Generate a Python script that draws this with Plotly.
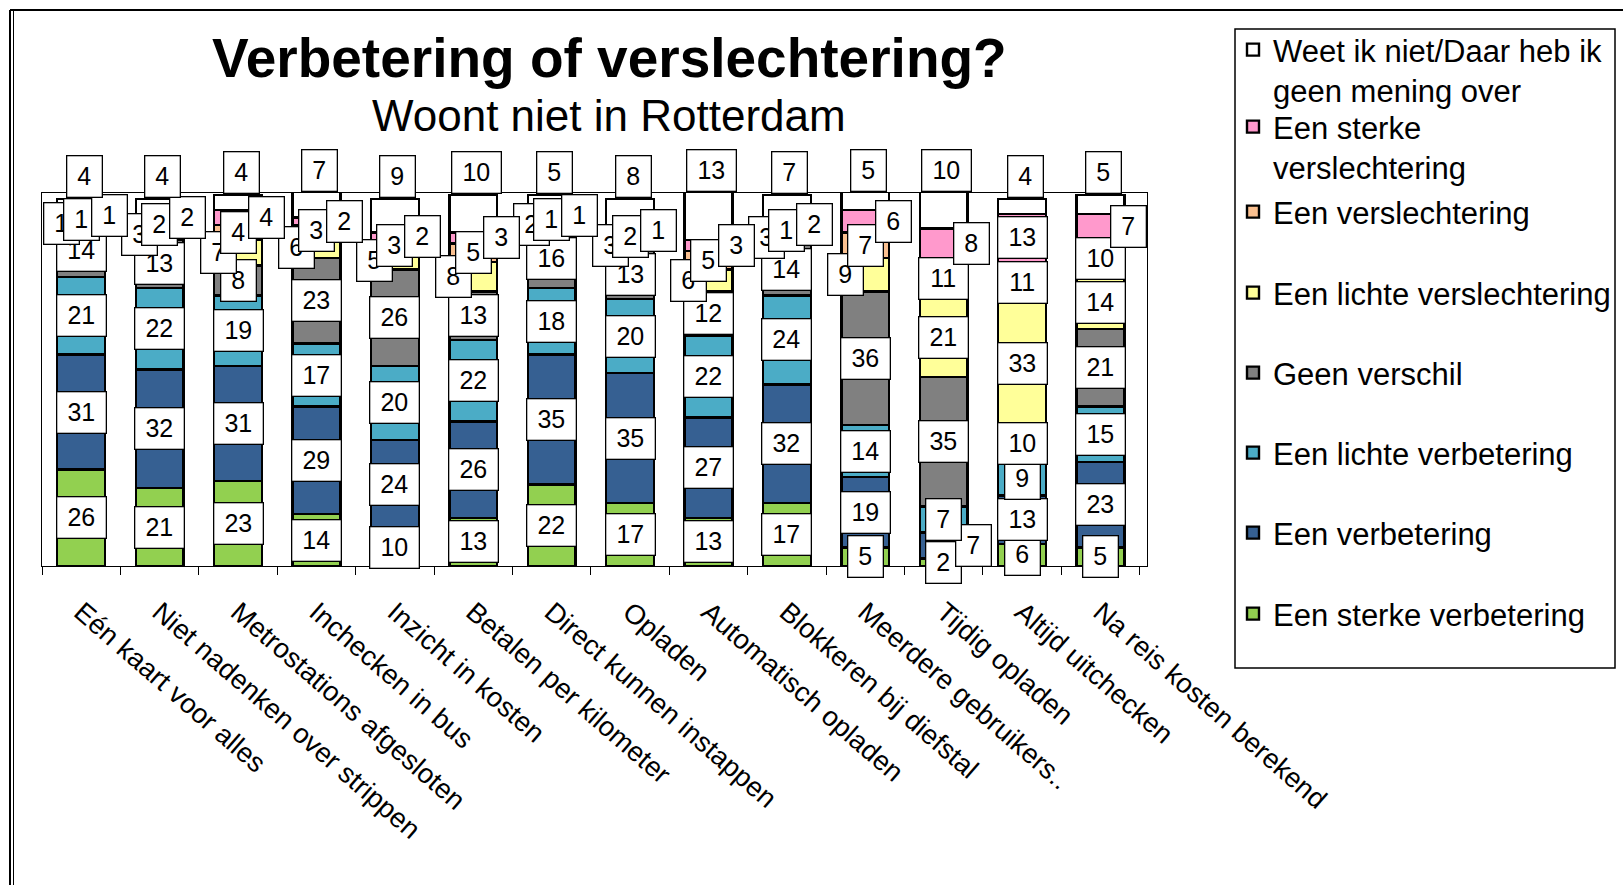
import plotly.graph_objects as go

categories = ["Eén kaart voor alles", "Niet nadenken over strippen", "Metrostations afgesloten",
              "Inchecken in bus", "Inzicht in kosten", "Betalen per kilometer",
              "Direct kunnen instappen", "Opladen", "Automatisch opladen",
              "Blokkeren bij diefstal", "Meerdere gebruikers..", "Tijdig opladen",
              "Altijd uitchecken", "Na reis kosten berekend"]

sterke_verbetering = [26, 21, 23, 14, 10, 13, 22, 17, 13, 17, 5, 2, 6, 5]
verbetering = [31, 32, 31, 29, 24, 26, 35, 35, 27, 32, 19, 7, 13, 23]
lichte_verbetering = [21, 22, 19, 17, 20, 22, 18, 20, 22, 24, 14, 7, 9, 15]
geen_verschil = [14, 13, 8, 23, 26, 13, 16, 13, 12, 14, 36, 35, 10, 21]
lichte_verslechtering = [1, 3, 7, 6, 5, 8, 2, 3, 6, 3, 9, 21, 33, 14]
verslechtering = [1, 2, 4, 3, 3, 5, 1, 2, 5, 1, 7, 11, 11, 10]
sterke_verslechtering = [1, 2, 4, 2, 2, 3, 1, 1, 3, 2, 6, 8, 13, 7]
weet_niet = [4, 4, 4, 7, 9, 10, 5, 8, 13, 7, 5, 10, 4, 5]

series_names = ["Een sterke verbetering", "Een verbetering", "Een lichte verbetering",
                "Geen verschil", "Een lichte verslechtering", "Een verslechtering",
                "Een sterke<br>verslechtering", "Weet ik niet/Daar heb ik<br>geen mening over"]
series_values = [sterke_verbetering, verbetering, lichte_verbetering, geen_verschil,
                 lichte_verslechtering, verslechtering, sterke_verslechtering, weet_niet]
colors = ["#92D050", "#366092", "#4BACC6", "#808080", "#FFFF99", "#FAC090", "#FF99CC", "#FFFFFF"]

# style: horizontal nudge for small labels per series (pixels)
small_shift = [0, 30, 0, 0, -20, 0, 28, 0]

# plot-area geometry in pixels
W, H = 1623, 885
L, R, T, B = 42, 1147, 193, 566
pw, ph = R - L, B - T
YMAX = 100.6


def px(xp):
    return (xp - L) / pw


def py(yp):
    return (B - yp) / ph


FONT = "Arial, Liberation Sans, sans-serif"

fig = go.Figure()

# legend first-line centres (pixels)
legend_centres = {7: 70, 6: 147, 5: 212, 4: 293, 3: 373, 2: 453, 1: 533, 0: 614}

for i, (name, vals, col) in enumerate(zip(series_names, series_values, colors)):
    lg = "legend" if i == 0 else f"legend{i + 1}"
    fig.add_trace(go.Bar(
        x=categories, y=vals, name=name,
        marker=dict(color=col, line=dict(color="black", width=2.4)),
        legend=lg, showlegend=True, hoverinfo="skip",
    ))
    fig.update_layout({lg: dict(
        x=px(1233), xanchor="left", y=py(legend_centres[i]), yanchor="middle",
        bgcolor="rgba(0,0,0,0)", borderwidth=0,
        font=dict(family=FONT, size=31, color="black"),
        valign="top", itemclick=False, itemdoubleclick=False,
    )})

annotations = []
cum = [0] * len(categories)
for i, vals in enumerate(series_values):
    for j, v in enumerate(vals):
        txt = str(v)
        common = dict(
            x=categories[j], text=txt, showarrow=False, xref="x", yref="y",
            font=dict(family=FONT, size=25, color="black"),
            bgcolor="white", bordercolor="black", borderwidth=1.3, borderpad=4,
            width=12 + 14 * len(txt), height=32,
        )
        if i == len(series_values) - 1:
            annotations.append(dict(y=min(cum[j] + v, YMAX - 0.1), yanchor="bottom", yshift=1,
                                    xshift=3, **common))
        else:
            shift = small_shift[i] if v < 10 else 0
            annotations.append(dict(y=cum[j] + v / 2, yanchor="middle", xshift=shift, **common))
        cum[j] += v

annotations.append(dict(
    text="<b>Verbetering of verslechtering?</b>", x=px(609), y=py(58), xref="paper", yref="paper",
    showarrow=False, font=dict(family=FONT, size=55, color="black"), xanchor="center", yanchor="middle"))
annotations.append(dict(
    text="Woont niet in Rotterdam", x=px(609), y=py(115), xref="paper", yref="paper",
    showarrow=False, font=dict(family=FONT, size=44, color="black"), xanchor="center", yanchor="middle"))

shapes = [
    # legend box
    dict(type="rect", xref="paper", yref="paper", x0=px(1235), x1=px(1615), y0=py(668), y1=py(29),
         line=dict(color="black", width=1.5), fillcolor="rgba(0,0,0,0)"),
    # outer frame
    dict(type="line", xref="paper", yref="paper", x0=px(10), x1=px(10), y0=py(10), y1=py(900),
         line=dict(color="black", width=2)),
    dict(type="line", xref="paper", yref="paper", x0=px(13.5), x1=px(13.5), y0=py(10), y1=py(900),
         line=dict(color="black", width=1)),
    dict(type="line", xref="paper", yref="paper", x0=px(10), x1=px(1640), y0=py(10), y1=py(10),
         line=dict(color="black", width=2)),
]

fig.update_layout(
    width=W, height=H,
    margin=dict(l=L, r=W - R, t=T, b=H - B, autoexpand=False),
    barmode="stack", bargap=0.39,
    paper_bgcolor="white", plot_bgcolor="white",
    annotations=annotations, shapes=shapes,
    xaxis=dict(type="category", showline=True, linecolor="black", linewidth=1, mirror=True,
               ticks="outside", tickson="boundaries", ticklen=8, tickcolor="black",
               tickangle=41, tickfont=dict(family=FONT, size=27.5, color="black"),
               ticklabelstandoff=18,
               showgrid=False, zeroline=False),
    yaxis=dict(range=[0, YMAX], showline=True, linecolor="black", linewidth=1, mirror=True,
               showticklabels=False, ticks="", showgrid=False, zeroline=False),
)

fig.write_html("out.html", config={"displayModeBar": False},
               post_script="document.body.style.margin='0';")
